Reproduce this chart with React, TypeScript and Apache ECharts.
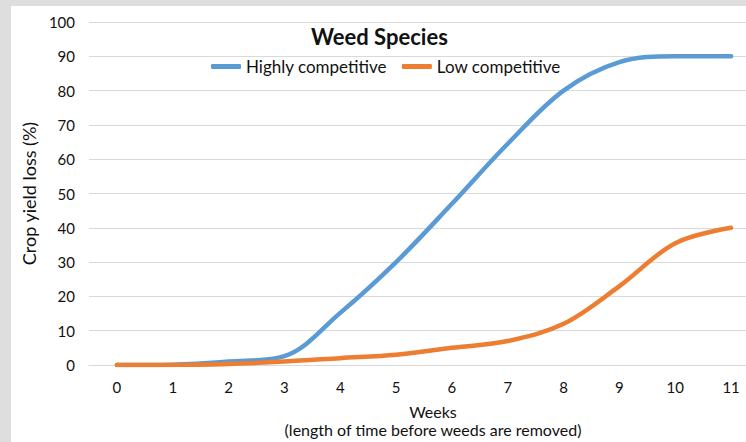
import React, { useEffect, useRef } from "react";
import * as echarts from "echarts";

const weeks = ["0", "1", "2", "3", "4", "5", "6", "7", "8", "9", "10", "11"];
const highlyCompetitive = [0, 0.1, 1, 2.6, 15.2, 30, 47, 64.5, 80, 88.3, 90, 90];
const lowCompetitive = [0, 0, 0.3, 1, 2, 3, 5, 7, 12, 23, 35.5, 40];
const yTicks = { min: 0, max: 100, interval: 10 };

const FONT = "Lato, 'Open Sans', sans-serif";

export default function App() {
  const ref = useRef<HTMLDivElement>(null);
  useEffect(() => {
    if (!ref.current) return;
    const chart = echarts.init(ref.current, undefined, { renderer: "svg" });
    chart.setOption({
      animation: false,
      backgroundColor: "#dedede",
      textStyle: { fontFamily: FONT },
      graphic: [
        {
          type: "rect",
          z: -10,
          shape: { x: 11, y: 6, width: 800, height: 440 },
          style: { fill: "#ffffff" },
        },
      ],
      title: {
        text: "Weed Species",
        left: 311,
        top: 25,
        padding: 0,
        textStyle: { fontFamily: FONT, fontSize: 22, fontWeight: "bold", color: "#111" },
      },
      legend: {
        left: 206,
        top: 53,
        itemWidth: 30,
        itemHeight: 5,
        itemGap: 15,
        icon: "roundRect",
        textStyle: { fontFamily: FONT, fontSize: 17, color: "#111" },
        data: ["Highly competitive", "Low competitive"],
      },
      grid: { left: 89, top: 22, width: 670, bottom: 77, containLabel: false, outerBoundsMode: "none" },
      xAxis: {
        type: "category",
        data: weeks,
        boundaryGap: true,
        axisLine: { show: true, lineStyle: { color: "#d9d9d9", width: 1 } },
        axisTick: { show: false },
        axisLabel: { color: "#111", fontSize: 15, margin: 14, fontFamily: FONT },
        name: "Weeks\n(length of time before weeds are removed)",
        nameLocation: "middle",
        nameGap: 37,
        nameTextStyle: {
          color: "#111",
          fontFamily: FONT,
          fontSize: 16,
          lineHeight: 18,
          align: "center",
          padding: [0, 0, 0, 18],
        },
      },
      yAxis: {
        type: "value",
        min: yTicks.min,
        max: yTicks.max,
        interval: yTicks.interval,
        axisLine: { show: false },
        axisTick: { show: false },
        splitLine: { lineStyle: { color: "#d9d9d9", width: 1 } },
        axisLabel: { color: "#111", fontSize: 15, margin: 14, fontFamily: FONT },
        name: "Crop yield loss (%)",
        nameLocation: "middle",
        nameGap: 45,
        nameTextStyle: { color: "#111", fontSize: 18, fontFamily: FONT },
      },
      series: [
        {
          name: "Highly competitive",
          type: "line",
          data: highlyCompetitive,
          smooth: 0.35,
          showSymbol: false,
          symbol: "none",
          lineStyle: { color: "#5b9bd5", width: 4.5, cap: "round" },
          itemStyle: { color: "#5b9bd5" },
        },
        {
          name: "Low competitive",
          type: "line",
          data: lowCompetitive,
          smooth: 0.35,
          showSymbol: false,
          symbol: "none",
          lineStyle: { color: "#ed7d31", width: 4.5, cap: "round" },
          itemStyle: { color: "#ed7d31" },
        },
      ],
    });
    return () => chart.dispose();
  }, []);
  return (
    <div style={{ position: "fixed", left: 0, top: 0, width: 746, height: 442, overflow: "hidden" }}>
      <div ref={ref} style={{ width: 761, height: 442 }} />
    </div>
  );
}
